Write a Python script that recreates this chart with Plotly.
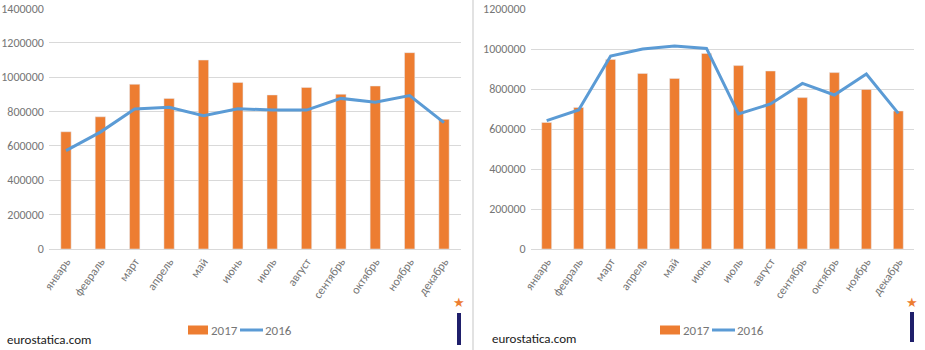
import plotly.graph_objects as go

months = ["январь", "февраль", "март", "апрель", "май", "июнь", "июль",
          "август", "сентябрь", "октябрь", "ноябрь", "декабрь"]

left_2017 = [682000, 769000, 958000, 876000, 1099000, 969000, 896000,
             940000, 900000, 948000, 1142000, 754000]
left_2016 = [572000, 680000, 814000, 824000, 775000, 816000, 808000,
             808000, 876000, 853000, 892000, 735000]

right_2017 = [633000, 708000, 948000, 878000, 853000, 978000, 917000,
              890000, 757000, 882000, 798000, 690000]
right_2016 = [642000, 695000, 965000, 1000000, 1015000, 1003000, 675000,
              725000, 828000, 770000, 875000, 678000]

left_ticks = [0, 200000, 400000, 600000, 800000, 1000000, 1200000, 1400000]
right_ticks = [0, 200000, 400000, 600000, 800000, 1000000, 1200000]

ORANGE = "#ED7D31"
BLUE = "#5B9BD5"
GRID = "#d9d9d9"
TXT = "#767676"
FONT = "Carlito, Liberation Sans Narrow, Liberation Sans, sans-serif"

W, H = 925, 350


def px(x):
    return x / W


def py(y):
    return 1 - y / H


fig = go.Figure()

fig.add_trace(go.Bar(x=months, y=left_2017, name="2017", marker_color=ORANGE,
                     width=0.30, xaxis="x", yaxis="y", showlegend=False))
fig.add_trace(go.Scatter(x=months, y=left_2016, name="2016", mode="lines",
                         line=dict(color=BLUE, width=3), xaxis="x", yaxis="y",
                         showlegend=False))
fig.add_trace(go.Bar(x=months, y=right_2017, name="2017", marker_color=ORANGE,
                     width=0.31, xaxis="x2", yaxis="y2", showlegend=False))
fig.add_trace(go.Scatter(x=months, y=right_2016, name="2016", mode="lines",
                         line=dict(color=BLUE, width=3), xaxis="x2", yaxis="y2",
                         showlegend=False))

xcommon = dict(showgrid=False, showline=True, linecolor=GRID, linewidth=1,
               tickangle=-55, ticks="", tickfont=dict(family=FONT, size=12, color=TXT),
               zeroline=False, fixedrange=True, automargin=False)
ycommon = dict(showgrid=True, gridcolor=GRID, gridwidth=1, zeroline=False,
               showline=False, ticks="", tickformat="d", automargin=False,
               tickfont=dict(family=FONT, size=12, color=TXT), ticklabelstandoff=4)

fig.update_layout(
    width=W, height=H,
    margin=dict(l=0, r=0, t=0, b=0, autoexpand=False),
    paper_bgcolor="white", plot_bgcolor="white",
    bargap=0.7,
    xaxis=dict(domain=[px(48.8), px(461.2)], anchor="y", **xcommon),
    yaxis=dict(domain=[py(249), py(8.3)], anchor="x", range=[0, 1400000],
               tickvals=left_ticks, **ycommon),
    xaxis2=dict(domain=[px(530.7), px(914.3)], anchor="y2", **xcommon),
    yaxis2=dict(domain=[py(249), py(9)], anchor="x2", range=[0, 1200000],
                tickvals=right_ticks, **ycommon),
)

shapes = []
annotations = []

# separator between panels
shapes.append(dict(type="line", xref="paper", yref="paper", x0=px(473), x1=px(473),
                   y0=0, y1=1, line=dict(color=GRID, width=1.5)))


def legend(x0, y):
    shapes.append(dict(type="rect", xref="paper", yref="paper",
                       x0=px(x0), x1=px(x0 + 20), y0=py(y + 4.5), y1=py(y - 4.5),
                       fillcolor=ORANGE, line=dict(width=0)))
    annotations.append(dict(text="2017", xref="paper", yref="paper", x=px(x0 + 21),
                            y=py(y), xanchor="left", yanchor="middle", showarrow=False,
                            font=dict(family=FONT, size=13, color=TXT)))
    shapes.append(dict(type="line", xref="paper", yref="paper",
                       x0=px(x0 + 52), x1=px(x0 + 75), y0=py(y), y1=py(y),
                       line=dict(color=BLUE, width=3)))
    annotations.append(dict(text="2016", xref="paper", yref="paper", x=px(x0 + 75),
                            y=py(y), xanchor="left", yanchor="middle", showarrow=False,
                            font=dict(family=FONT, size=13, color=TXT)))


legend(188, 330)
legend(660, 330)


def brand(x, y):
    annotations.append(dict(text="eurostatica.com", xref="paper", yref="paper",
                            x=px(x), y=py(y), xanchor="left", yanchor="middle",
                            showarrow=False,
                            font=dict(family="Carlito, Liberation Sans Narrow, DejaVu Sans Condensed",
                                      size=13, color="#1a1a1a")))


brand(5, 339)
brand(490, 338)


def logo(xc, ystar, ytop, ybot):
    annotations.append(dict(text="★", xref="paper", yref="paper", x=px(xc), y=py(ystar),
                            xanchor="center", yanchor="middle", showarrow=False,
                            font=dict(size=13, color=ORANGE)))
    shapes.append(dict(type="rect", xref="paper", yref="paper",
                       x0=px(xc - 2), x1=px(xc + 2), y0=py(ybot), y1=py(ytop),
                       fillcolor="#1f1f6b", line=dict(width=0)))


logo(459, 302, 313, 345)
logo(912, 302, 312, 342)

fig.update_layout(shapes=shapes, annotations=annotations)

fig.write_html("out.html", config={"displayModeBar": False},
               post_script="document.body.style.margin='0';")
